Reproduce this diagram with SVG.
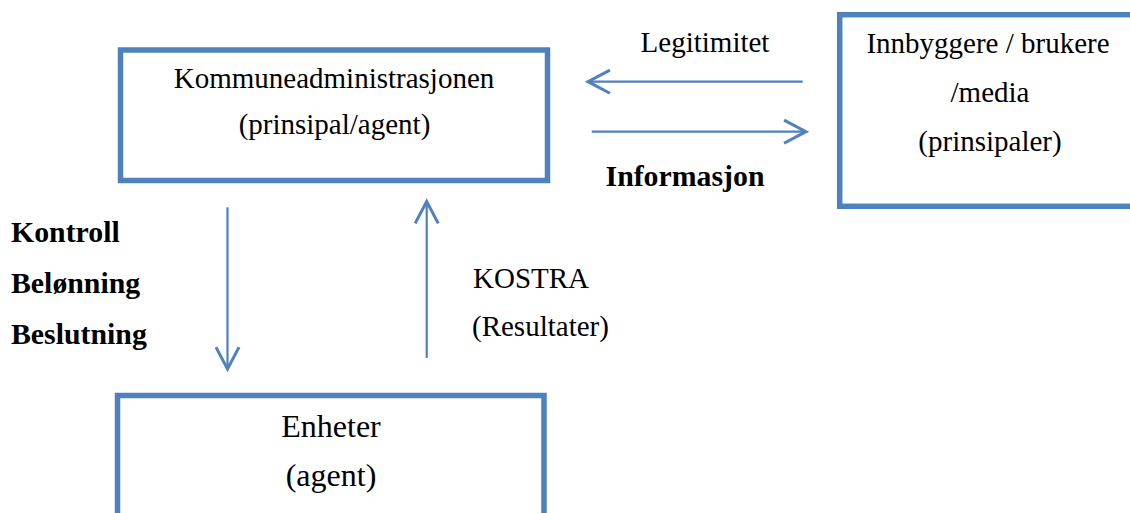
<svg xmlns="http://www.w3.org/2000/svg" width="1130" height="513" viewBox="0 0 1130 513">
  <style>
    .box { fill: #ffffff; stroke: #4F81BD; stroke-width: 5.5; }
    .t { font-family: "Liberation Serif", "Times New Roman", serif; font-size: 29px; fill: #000000; }
    .c { text-anchor: middle; }
    .b { font-weight: bold; font-size: 29.8px; }
    .lg { font-size: 32px; }
    .conn { stroke: #4F81BD; stroke-width: 2.2; fill: none; marker-end: url(#arr); }
  </style>
  <defs>
    <marker id="arr" markerUnits="userSpaceOnUse" markerWidth="30" markerHeight="30" viewBox="-22 -13 26 26" refX="0" refY="0" orient="auto">
      <path d="M -19 -10 L 0 0 L -19 10" fill="none" stroke="#4F81BD" stroke-width="2.6" stroke-linejoin="miter"/>
    </marker>
  </defs>
  <rect width="1130" height="513" fill="#ffffff"/>

  <g id="connectors">
    <line class="conn" x1="802.7" y1="81.7" x2="588" y2="81.7"/>
    <line class="conn" x1="591.7" y1="131.7" x2="806" y2="131.7"/>
    <line class="conn" x1="227.5" y1="207.3" x2="227.5" y2="369"/>
    <line class="conn" x1="426.7" y1="358" x2="426.7" y2="201.5"/>
  </g>

  <g id="kommuneadministrasjonen">
    <rect class="box" x="120.5" y="50" width="427" height="130.5"/>
    <text class="t c" x="334" y="88">Kommuneadministrasjonen</text>
    <text class="t c" x="334.5" y="134">(prinsipal/agent)</text>
  </g>

  <g id="innbyggere">
    <rect class="box" x="839.7" y="14.7" width="310" height="191.6"/>
    <text class="t c" x="988" y="53">Innbyggere / brukere</text>
    <text class="t c" x="990" y="102">/media</text>
    <text class="t c" x="990" y="151">(prinsipaler)</text>
  </g>

  <g id="enheter">
    <rect class="box" x="117.5" y="395.5" width="426.5" height="140"/>
    <text class="t c lg" x="331" y="437">Enheter</text>
    <text class="t c lg" x="331" y="486">(agent)</text>
  </g>

  <g id="labels">
    <text class="t c" x="705" y="52">Legitimitet</text>
    <text class="t c b" x="685" y="186">Informasjon</text>
    <text class="t b" x="11" y="242">Kontroll</text>
    <text class="t b" x="11" y="293">Belønning</text>
    <text class="t b" x="11" y="344">Beslutning</text>
    <text class="t" x="473" y="288">KOSTRA</text>
    <text class="t" x="472" y="336">(Resultater)</text>
  </g>
</svg>
